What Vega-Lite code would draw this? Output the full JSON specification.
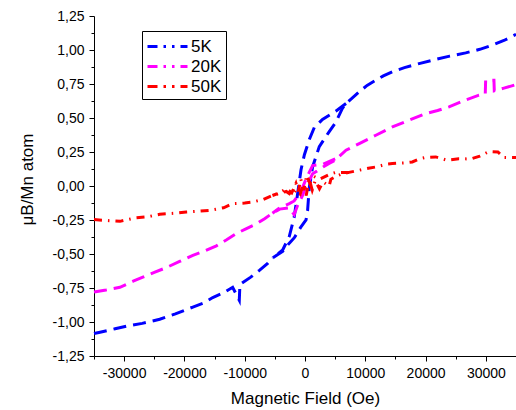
{
  "$schema": "https://vega.github.io/schema/vega-lite/v6.json",
  "autosize": {"type": "none"},
  "padding": {"left": 94, "top": 16, "right": 0, "bottom": 54},
  "width": 422,
  "height": 340,
  "background": "white",
  "config": {
    "view": {"stroke": null},
    "font": "Liberation Sans",
    "axis": {"grid": false, "domainColor": "#000", "tickColor": "#000", "labelColor": "#000", "titleColor": "#000", "titleFontWeight": "normal", "labelFont": "Liberation Sans", "titleFont": "Liberation Sans", "domainWidth": 1, "tickWidth": 1},
    "legend": {"labelFont": "Liberation Sans", "labelFontSize": 17, "labelColor": "#000", "symbolDash": [10, 6, 2.5, 6, 2.5, 6]}
  },
  "data": {"values": [
    {"series":"5K","branch":"a","order":1,"H":-35000,"M":-1.085},
    {"series":"5K","branch":"a","order":2,"H":-34000,"M":-1.075},
    {"series":"5K","branch":"a","order":3,"H":-31500,"M":-1.05},
    {"series":"5K","branch":"a","order":4,"H":-29600,"M":-1.03},
    {"series":"5K","branch":"a","order":5,"H":-27000,"M":-1.01},
    {"series":"5K","branch":"a","order":6,"H":-24100,"M":-0.98},
    {"series":"5K","branch":"a","order":7,"H":-21500,"M":-0.94},
    {"series":"5K","branch":"a","order":8,"H":-18600,"M":-0.89},
    {"series":"5K","branch":"a","order":9,"H":-16800,"M":-0.86},
    {"series":"5K","branch":"a","order":10,"H":-15300,"M":-0.82},
    {"series":"5K","branch":"a","order":11,"H":-13500,"M":-0.785},
    {"series":"5K","branch":"a","order":12,"H":-12000,"M":-0.745},
    {"series":"5K","branch":"a","order":13,"H":-10900,"M":-0.84},
    {"series":"5K","branch":"a","order":14,"H":-10800,"M":-0.725},
    {"series":"5K","branch":"a","order":15,"H":-9000,"M":-0.67},
    {"series":"5K","branch":"a","order":16,"H":-7566,"M":-0.62},
    {"series":"5K","branch":"a","order":17,"H":-6200,"M":-0.57},
    {"series":"5K","branch":"a","order":18,"H":-5400,"M":-0.53},
    {"series":"5K","branch":"a","order":19,"H":-3700,"M":-0.48},
    {"series":"5K","branch":"a","order":20,"H":-2600,"M":-0.42},
    {"series":"5K","branch":"a","order":21,"H":-1770,"M":-0.38},
    {"series":"5K","branch":"a","order":22,"H":-660,"M":-0.30},
    {"series":"5K","branch":"a","order":23,"H":170,"M":-0.25},
    {"series":"5K","branch":"a","order":24,"H":430,"M":-0.18},
    {"series":"5K","branch":"a","order":25,"H":710,"M":-0.01},
    {"series":"5K","branch":"a","order":26,"H":1260,"M":0.14},
    {"series":"5K","branch":"a","order":27,"H":2370,"M":0.29},
    {"series":"5K","branch":"a","order":28,"H":4020,"M":0.40},
    {"series":"5K","branch":"a","order":29,"H":5130,"M":0.47},
    {"series":"5K","branch":"a","order":30,"H":6200,"M":0.57},
    {"series":"5K","branch":"a","order":31,"H":6800,"M":0.607},
    {"series":"5K","branch":"a","order":32,"H":8990,"M":0.692},
    {"series":"5K","branch":"a","order":33,"H":10300,"M":0.74},
    {"series":"5K","branch":"a","order":34,"H":11755,"M":0.778},
    {"series":"5K","branch":"a","order":35,"H":13000,"M":0.81},
    {"series":"5K","branch":"a","order":36,"H":14503,"M":0.84},
    {"series":"5K","branch":"a","order":37,"H":16500,"M":0.87},
    {"series":"5K","branch":"a","order":38,"H":18924,"M":0.90},
    {"series":"5K","branch":"a","order":39,"H":21688,"M":0.931},
    {"series":"5K","branch":"a","order":40,"H":24000,"M":0.955},
    {"series":"5K","branch":"a","order":41,"H":26655,"M":0.979},
    {"series":"5K","branch":"a","order":42,"H":29000,"M":1.005},
    {"series":"5K","branch":"a","order":43,"H":31063,"M":1.036},
    {"series":"5K","branch":"a","order":44,"H":33000,"M":1.07},
    {"series":"5K","branch":"a","order":45,"H":35000,"M":1.115},
    {"series":"5K","branch":"b","order":1,"H":6800,"M":0.607},
    {"series":"5K","branch":"b","order":2,"H":5100,"M":0.55},
    {"series":"5K","branch":"b","order":3,"H":2900,"M":0.49},
    {"series":"5K","branch":"b","order":4,"H":1540,"M":0.43},
    {"series":"5K","branch":"b","order":5,"H":700,"M":0.34},
    {"series":"5K","branch":"b","order":6,"H":-100,"M":0.23},
    {"series":"5K","branch":"b","order":7,"H":-660,"M":0.12},
    {"series":"5K","branch":"b","order":8,"H":-1200,"M":-0.05},
    {"series":"5K","branch":"b","order":9,"H":-1800,"M":-0.23},
    {"series":"5K","branch":"b","order":10,"H":-2600,"M":-0.37},
    {"series":"5K","branch":"b","order":11,"H":-3700,"M":-0.47},
    {"series":"5K","branch":"b","order":12,"H":-5400,"M":-0.53},
    {"series":"20K","branch":"a","order":1,"H":-35000,"M":-0.78},
    {"series":"20K","branch":"a","order":2,"H":-33000,"M":-0.765},
    {"series":"20K","branch":"a","order":3,"H":-30700,"M":-0.745},
    {"series":"20K","branch":"a","order":4,"H":-28500,"M":-0.70},
    {"series":"20K","branch":"a","order":5,"H":-26900,"M":-0.67},
    {"series":"20K","branch":"a","order":6,"H":-25000,"M":-0.635},
    {"series":"20K","branch":"a","order":7,"H":-23000,"M":-0.60},
    {"series":"20K","branch":"a","order":8,"H":-20800,"M":-0.555},
    {"series":"20K","branch":"a","order":9,"H":-18600,"M":-0.51},
    {"series":"20K","branch":"a","order":10,"H":-16500,"M":-0.475},
    {"series":"20K","branch":"a","order":11,"H":-14700,"M":-0.44},
    {"series":"20K","branch":"a","order":12,"H":-13000,"M":-0.395},
    {"series":"20K","branch":"a","order":13,"H":-11400,"M":-0.35},
    {"series":"20K","branch":"a","order":14,"H":-9800,"M":-0.315},
    {"series":"20K","branch":"a","order":15,"H":-8100,"M":-0.28},
    {"series":"20K","branch":"a","order":16,"H":-6700,"M":-0.24},
    {"series":"20K","branch":"a","order":17,"H":-5400,"M":-0.20},
    {"series":"20K","branch":"a","order":18,"H":-4200,"M":-0.17},
    {"series":"20K","branch":"a","order":19,"H":-2600,"M":-0.16},
    {"series":"20K","branch":"a","order":20,"H":-1800,"M":-0.21},
    {"series":"20K","branch":"a","order":21,"H":-1200,"M":-0.14},
    {"series":"20K","branch":"a","order":22,"H":-400,"M":-0.07},
    {"series":"20K","branch":"a","order":23,"H":170,"M":0.0},
    {"series":"20K","branch":"a","order":24,"H":700,"M":0.04},
    {"series":"20K","branch":"a","order":25,"H":1260,"M":0.09},
    {"series":"20K","branch":"a","order":26,"H":2000,"M":0.11},
    {"series":"20K","branch":"a","order":27,"H":3000,"M":0.14},
    {"series":"20K","branch":"a","order":28,"H":4000,"M":0.165},
    {"series":"20K","branch":"a","order":29,"H":5000,"M":0.19},
    {"series":"20K","branch":"a","order":30,"H":6800,"M":0.263},
    {"series":"20K","branch":"a","order":31,"H":9000,"M":0.312},
    {"series":"20K","branch":"a","order":32,"H":11750,"M":0.373},
    {"series":"20K","branch":"a","order":33,"H":14500,"M":0.434},
    {"series":"20K","branch":"a","order":34,"H":17270,"M":0.484},
    {"series":"20K","branch":"a","order":35,"H":20030,"M":0.533},
    {"series":"20K","branch":"a","order":36,"H":22000,"M":0.555},
    {"series":"20K","branch":"a","order":37,"H":23890,"M":0.582},
    {"series":"20K","branch":"a","order":38,"H":26500,"M":0.63},
    {"series":"20K","branch":"a","order":39,"H":28860,"M":0.668},
    {"series":"20K","branch":"a","order":40,"H":29900,"M":0.675},
    {"series":"20K","branch":"a","order":41,"H":29966,"M":0.778},
    {"series":"20K","branch":"a","order":42,"H":31341,"M":0.778},
    {"series":"20K","branch":"a","order":43,"H":31400,"M":0.70},
    {"series":"20K","branch":"a","order":44,"H":33000,"M":0.72},
    {"series":"20K","branch":"a","order":45,"H":35000,"M":0.745},
    {"series":"20K","branch":"b","order":1,"H":5000,"M":0.20},
    {"series":"20K","branch":"b","order":2,"H":3000,"M":0.16},
    {"series":"20K","branch":"b","order":3,"H":1260,"M":0.15},
    {"series":"20K","branch":"b","order":4,"H":700,"M":0.10},
    {"series":"20K","branch":"b","order":5,"H":170,"M":0.05},
    {"series":"20K","branch":"b","order":6,"H":-400,"M":-0.01},
    {"series":"20K","branch":"b","order":7,"H":-1000,"M":-0.06},
    {"series":"20K","branch":"b","order":8,"H":-1800,"M":-0.11},
    {"series":"20K","branch":"b","order":9,"H":-2600,"M":-0.13},
    {"series":"20K","branch":"b","order":10,"H":-4200,"M":-0.16},
    {"series":"20K","branch":"b","order":11,"H":-5400,"M":-0.20},
    {"series":"50K","branch":"a","order":1,"H":-35000,"M":-0.247},
    {"series":"50K","branch":"a","order":2,"H":-32500,"M":-0.255},
    {"series":"50K","branch":"a","order":3,"H":-30700,"M":-0.26},
    {"series":"50K","branch":"a","order":4,"H":-28000,"M":-0.233},
    {"series":"50K","branch":"a","order":5,"H":-26000,"M":-0.225},
    {"series":"50K","branch":"a","order":6,"H":-24100,"M":-0.208},
    {"series":"50K","branch":"a","order":7,"H":-21500,"M":-0.20},
    {"series":"50K","branch":"a","order":8,"H":-19700,"M":-0.191},
    {"series":"50K","branch":"a","order":9,"H":-17500,"M":-0.185},
    {"series":"50K","branch":"a","order":10,"H":-15800,"M":-0.179},
    {"series":"50K","branch":"a","order":11,"H":-13500,"M":-0.16},
    {"series":"50K","branch":"a","order":12,"H":-12000,"M":-0.13},
    {"series":"50K","branch":"a","order":13,"H":-10000,"M":-0.125},
    {"series":"50K","branch":"a","order":14,"H":-8700,"M":-0.118},
    {"series":"50K","branch":"a","order":15,"H":-7000,"M":-0.10},
    {"series":"50K","branch":"a","order":16,"H":-5400,"M":-0.07},
    {"series":"50K","branch":"a","order":17,"H":-3100,"M":-0.04},
    {"series":"50K","branch":"a","order":18,"H":-2200,"M":-0.07},
    {"series":"50K","branch":"a","order":19,"H":-1500,"M":-0.03},
    {"series":"50K","branch":"a","order":20,"H":-800,"M":-0.06},
    {"series":"50K","branch":"a","order":21,"H":-300,"M":0.01},
    {"series":"50K","branch":"a","order":22,"H":200,"M":-0.07},
    {"series":"50K","branch":"a","order":23,"H":700,"M":0.05},
    {"series":"50K","branch":"a","order":24,"H":1200,"M":-0.03},
    {"series":"50K","branch":"a","order":25,"H":1700,"M":0.04},
    {"series":"50K","branch":"a","order":26,"H":2400,"M":-0.02},
    {"series":"50K","branch":"a","order":27,"H":3000,"M":0.03},
    {"series":"50K","branch":"a","order":28,"H":4000,"M":0.0},
    {"series":"50K","branch":"a","order":29,"H":4300,"M":0.05},
    {"series":"50K","branch":"a","order":30,"H":5100,"M":0.07},
    {"series":"50K","branch":"a","order":31,"H":6200,"M":0.09},
    {"series":"50K","branch":"a","order":32,"H":7300,"M":0.10},
    {"series":"50K","branch":"a","order":33,"H":9000,"M":0.116},
    {"series":"50K","branch":"a","order":34,"H":10500,"M":0.13},
    {"series":"50K","branch":"a","order":35,"H":11750,"M":0.14},
    {"series":"50K","branch":"a","order":36,"H":13500,"M":0.16},
    {"series":"50K","branch":"a","order":37,"H":14500,"M":0.165},
    {"series":"50K","branch":"a","order":38,"H":16500,"M":0.17},
    {"series":"50K","branch":"a","order":39,"H":17800,"M":0.177},
    {"series":"50K","branch":"a","order":40,"H":19000,"M":0.20},
    {"series":"50K","branch":"a","order":41,"H":20000,"M":0.21},
    {"series":"50K","branch":"a","order":42,"H":21700,"M":0.214},
    {"series":"50K","branch":"a","order":43,"H":23500,"M":0.19},
    {"series":"50K","branch":"a","order":44,"H":25500,"M":0.20},
    {"series":"50K","branch":"a","order":45,"H":27500,"M":0.199},
    {"series":"50K","branch":"a","order":46,"H":29000,"M":0.22},
    {"series":"50K","branch":"a","order":47,"H":30500,"M":0.253},
    {"series":"50K","branch":"a","order":48,"H":32000,"M":0.25},
    {"series":"50K","branch":"a","order":49,"H":33000,"M":0.21},
    {"series":"50K","branch":"a","order":50,"H":35000,"M":0.209},
    {"series":"50K","branch":"b","order":1,"H":7300,"M":0.10},
    {"series":"50K","branch":"b","order":2,"H":5100,"M":0.10},
    {"series":"50K","branch":"b","order":3,"H":4300,"M":0.09},
    {"series":"50K","branch":"b","order":4,"H":2400,"M":0.05},
    {"series":"50K","branch":"b","order":5,"H":1500,"M":0.07},
    {"series":"50K","branch":"b","order":6,"H":800,"M":0.02},
    {"series":"50K","branch":"b","order":7,"H":300,"M":0.08},
    {"series":"50K","branch":"b","order":8,"H":-200,"M":-0.03},
    {"series":"50K","branch":"b","order":9,"H":-700,"M":0.05},
    {"series":"50K","branch":"b","order":10,"H":-1100,"M":-0.04},
    {"series":"50K","branch":"b","order":11,"H":-1500,"M":0.02},
    {"series":"50K","branch":"b","order":12,"H":-2200,"M":-0.05},
    {"series":"50K","branch":"b","order":13,"H":-3100,"M":-0.02},
    {"series":"50K","branch":"b","order":14,"H":-4200,"M":-0.05},
    {"series":"50K","branch":"b","order":15,"H":-5400,"M":-0.07}
  ]},
  "layer": [
    {
      "mark": {"type": "line", "opacity": 0},
      "encoding": {
        "x": {"field": "H", "type": "quantitative", "scale": {"domain": [-35000, 35000], "nice": false, "zero": false},
          "axis": {"orient": "bottom", "values": [-35000, -25000, -15000, -5000, 5000, 15000, 25000, 35000], "labels": false, "domain": false, "tickSize": 3, "title": null}},
        "y": {"field": "M", "type": "quantitative", "scale": {"domain": [-1.25, 1.25], "nice": false, "zero": false},
          "axis": {"orient": "left", "values": [-1.125, -0.875, -0.625, -0.375, -0.125, 0.125, 0.375, 0.625, 0.875, 1.125], "labels": false, "domain": false, "tickSize": 3, "title": null}},
        "detail": {"field": "series"},
        "order": {"field": "order"}
      }
    },
    {
      "transform": [{"filter": "datum.series !== '50K'"}],
      "mark": {"type": "line", "strokeCap": "butt", "strokeDash": [13, 7]},
      "encoding": {
        "x": {"field": "H", "type": "quantitative", "scale": {"domain": [-35000, 35000], "nice": false, "zero": false},
          "axis": {"orient": "bottom", "values": [-30000, -20000, -10000, 0, 10000, 20000, 30000], "tickSize": 5, "labelFontSize": 14, "labelPadding": 5,
            "labelExpr": "(datum.value < 0 ? '-' : '') + format(abs(datum.value), 'd')",
            "title": "Magnetic Field (Oe)", "titleFontSize": 17, "titleBaseline": "middle", "titleY": 42}},
        "y": {"field": "M", "type": "quantitative", "scale": {"domain": [-1.25, 1.25], "nice": false, "zero": false},
          "axis": {"orient": "left", "values": [-1.25, -1, -0.75, -0.5, -0.25, 0, 0.25, 0.5, 0.75, 1, 1.25], "tickSize": 5, "labelFontSize": 14, "labelPadding": 5,
            "labelExpr": "(datum.value < 0 ? '-' : '') + replace(format(abs(datum.value), '.2f'), '.', ',')",
            "title": "μB/Mn atom", "titleFontSize": 17, "titleBaseline": "middle", "titleX": -67, "titleY": 163}},
        "color": {"field": "series", "type": "nominal",
          "scale": {"domain": ["5K", "20K", "50K"], "range": ["#0000FF", "#FF00FF", "#FF0000"]},
          "legend": {"title": null, "orient": "none", "legendX": 48, "legendY": 15, "strokeColor": "#000", "padding": 4,
            "symbolType": "M-2,0H2", "symbolSize": 400, "symbolOffset": 10, "labelOffset": 12, "rowPadding": 0,
            "symbolDash": [10, 6, 2.5, 6, 2.5, 6]}},
        "strokeWidth": {"field": "series", "type": "nominal",
          "scale": {"domain": ["5K", "20K", "50K"], "range": [3, 3, 1.7]},
          "legend": {"title": null, "orient": "none", "legendX": 48, "legendY": 15, "strokeColor": "#000", "padding": 4,
            "symbolType": "M-2,0H2", "symbolSize": 400, "symbolOffset": 10, "labelOffset": 12, "rowPadding": 0,
            "symbolDash": [10, 6, 2.5, 6, 2.5, 6]}},
        "detail": {"field": "branch"},
        "order": {"field": "order"}
      }
    },
    {
      "transform": [{"filter": "datum.series === '50K'"}],
      "mark": {"type": "line", "strokeCap": "butt", "strokeDash": [8, 6, 1.5, 6]},
      "encoding": {
        "x": {"field": "H", "type": "quantitative", "scale": {"domain": [-35000, 35000], "nice": false, "zero": false}, "axis": null},
        "y": {"field": "M", "type": "quantitative", "scale": {"domain": [-1.25, 1.25], "nice": false, "zero": false}, "axis": null},
        "color": {"field": "series", "type": "nominal",
          "scale": {"domain": ["5K", "20K", "50K"], "range": ["#0000FF", "#FF00FF", "#FF0000"]}},
        "strokeWidth": {"field": "series", "type": "nominal",
          "scale": {"domain": ["5K", "20K", "50K"], "range": [3, 3, 1.7]}},
        "detail": {"field": "branch"},
        "order": {"field": "order"}
      }
    }
  ],
  "resolve": {"axis": {"x": "independent", "y": "independent"}}
}
